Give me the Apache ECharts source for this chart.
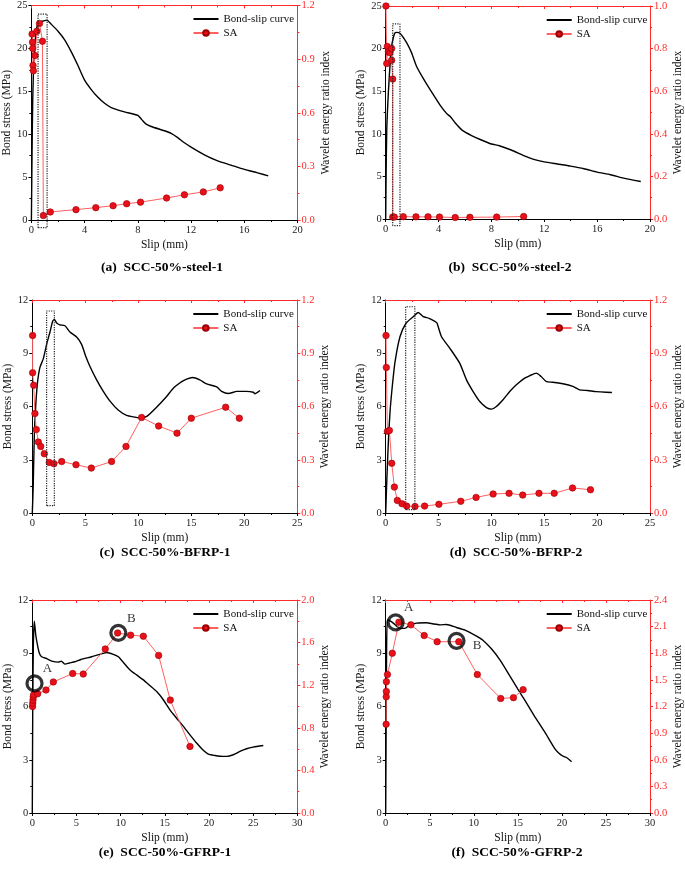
<!DOCTYPE html>
<html>
<head>
<meta charset="utf-8">
<script src="https://cdn.jsdelivr.net/npm/echarts@6/dist/echarts.min.js"></script>
<style>
html, body { margin: 0; padding: 0; background: #fff; }
#chart { width: 685px; height: 870px; }
</style>
</head>
<body>
<div id="chart"></div>
<script>
// bond-slip curves [slip mm, stress MPa]
const curveA = [[0,0],[0.05,8],[0.1,14],[0.15,17],[0.25,20],[0.35,22],[0.45,22.7],[0.53,22.9],[0.7,23.1],[0.9,23.2],[1.16,23.3],[1.5,22.8],[2,22.0],[2.5,21.0],[3,19.6],[3.5,18.0],[4,16.3],[4.5,15.2],[5,14.3],[5.5,13.6],[6,13.1],[7,12.6],[8,12.2],[8.3,11.7],[8.6,11.2],[9,10.9],[10,10.4],[10.5,10.1],[11,9.6],[11.5,9.0],[12,8.5],[13,7.6],[14,6.9],[15,6.4],[16,5.9],[17,5.5],[17.8,5.15]];
const curveB = [[0,0],[0.03,5],[0.08,10.5],[0.2,14.8],[0.32,17.9],[0.45,20.3],[0.58,21.3],[0.7,21.85],[0.83,21.9],[1.08,21.8],[1.58,20.7],[1.96,19.5],[2.34,17.9],[2.84,16.5],[3.35,15.2],[4.1,13.4],[4.6,12.4],[4.9,12],[5.3,11.2],[5.8,10.4],[6.5,9.8],[7.2,9.3],[8,8.8],[8.6,8.6],[9.5,8.1],[10.5,7.4],[11.2,7.0],[12,6.7],[13,6.45],[14,6.2],[15,5.9],[16,5.5],[17,5.2],[18,4.8],[19.3,4.4]];
const curveC = [[0,0],[0.09,1.6],[0.19,4.4],[0.35,6.3],[0.5,7.4],[0.72,8.2],[1.04,8.7],[1.35,9.5],[1.67,10.2],[1.92,10.8],[2.08,10.9],[2.3,10.7],[2.6,10.6],[3.08,10.55],[3.55,10.2],[4.2,9.9],[4.65,9.5],[5.06,8.8],[5.44,8.25],[6.07,7.5],[6.7,6.85],[7.33,6.3],[8.1,5.8],[8.9,5.5],[9.7,5.4],[10.16,5.35],[10.8,5.44],[11.7,5.94],[12.67,6.56],[13.3,7.03],[14.1,7.4],[14.56,7.54],[15.1,7.63],[15.8,7.5],[16.45,7.27],[17.4,7.1],[17.86,6.85],[18.5,6.73],[19.3,6.85],[20.2,6.85],[20.85,6.8],[21.0,6.72],[21.48,6.9]];
const curveD = [[0,0],[0.09,1.6],[0.25,4],[0.41,5.7],[0.6,7.0],[0.88,8.5],[1.35,9.93],[1.92,10.69],[2.6,11.06],[3.08,11.3],[3.55,11.06],[4.1,10.97],[4.65,10.8],[4.85,10.7],[5.28,9.93],[6.07,9.28],[7.0,8.44],[7.64,7.5],[8.27,6.84],[8.9,6.28],[9.53,5.94],[10.0,5.85],[10.47,6.0],[11.1,6.38],[11.73,6.84],[12.36,7.22],[13.14,7.6],[13.6,7.73],[14.25,7.88],[14.7,7.69],[15.2,7.4],[15.8,7.37],[16.76,7.28],[17.7,7.13],[18.33,6.94],[19.1,6.9],[19.9,6.84],[20.85,6.8],[21.4,6.79]];
const curveE = [[0,0],[0.05,6],[0.12,9.5],[0.23,10.8],[0.4,10.0],[0.61,9.4],[0.8,9.0],[1.06,8.8],[1.62,8.7],[2.2,8.56],[2.94,8.5],[3.3,8.55],[3.7,8.39],[4.2,8.45],[4.83,8.52],[5.5,8.65],[6.72,8.8],[8.04,8.99],[8.4,9.04],[9.17,8.94],[9.74,8.8],[10.38,8.44],[11.06,8.06],[11.8,7.78],[12.57,7.5],[13.3,7.18],[14.08,6.84],[14.83,6.38],[15.58,5.81],[16.34,5.34],[17.1,4.88],[17.85,4.4],[18.6,3.94],[19.36,3.53],[19.92,3.32],[20.68,3.24],[21.25,3.2],[22.0,3.19],[22.75,3.28],[23.5,3.47],[24.26,3.62],[25.0,3.71],[26.15,3.8]];
const curveF = [[0,0],[0.05,5],[0.1,9],[0.18,10.87],[0.4,10.85],[0.86,10.7],[1.62,10.4],[2.18,10.4],[2.75,10.6],[3.5,10.7],[4.64,10.72],[5.4,10.65],[6.15,10.6],[6.9,10.62],[8.04,10.45],[9,10.3],[10,10.05],[11,9.75],[12,9.25],[13,8.6],[14,7.8],[15,6.98],[15.77,6.37],[16.9,5.45],[18.03,4.58],[19.17,3.64],[19.6,3.4],[20.1,3.21],[20.6,3.1],[21.1,2.89]];

// SA: wavelet energy ratio index [slip mm, index]
const saA = [[0.05,1.04],[0.08,0.995],[0.1,0.96],[0.12,0.865],[0.15,0.835],[0.28,0.92],[0.41,1.056],[0.61,1.1],[0.83,1.0],[0.9,0.025],[1.42,0.045],[3.35,0.058],[4.84,0.069],[6.14,0.08],[7.16,0.091],[8.2,0.1],[10.16,0.123],[11.5,0.141],[12.92,0.157],[14.19,0.18]];
const saB = [[0.02,1.0],[0.08,0.73],[0.12,0.81],[0.2,0.785],[0.32,0.78],[0.45,0.8],[0.45,0.745],[0.53,0.657],[0.53,0.009],[0.65,0.009],[1.33,0.011],[2.29,0.01],[3.2,0.01],[4.07,0.009],[5.26,0.007],[6.37,0.008],[8.4,0.009],[10.44,0.012]];
const saC = [[0.03,1.0],[0.03,0.79],[0.13,0.72],[0.25,0.56],[0.38,0.47],[0.57,0.40],[0.79,0.375],[1.13,0.334],[1.6,0.285],[2.04,0.278],[2.77,0.29],[4.12,0.272],[5.57,0.253],[7.48,0.29],[8.84,0.375],[10.31,0.538],[11.92,0.49],[13.65,0.45],[15.0,0.534],[18.24,0.596],[19.53,0.534]];
const saD = [[0.03,1.0],[0.06,0.82],[0.16,0.46],[0.35,0.465],[0.57,0.28],[0.82,0.146],[1.1,0.071],[1.54,0.052],[1.98,0.039],[2.77,0.037],[3.68,0.039],[5.03,0.049],[7.1,0.066],[8.55,0.088],[10.16,0.107],[11.67,0.111],[12.96,0.101],[14.5,0.111],[15.94,0.111],[17.67,0.141],[19.37,0.131]];
const saE = [[0.03,1.0],[0.05,1.03],[0.08,1.06],[0.11,1.09],[0.15,1.11],[0.61,1.12],[1.55,1.155],[2.38,1.23],[4.57,1.31],[5.77,1.305],[8.26,1.54],[9.66,1.69],[11.13,1.67],[12.57,1.66],[14.3,1.48],[15.62,1.06],[17.85,0.625]];
const saF = [[0.05,1.0],[0.06,1.31],[0.07,1.37],[0.08,1.48],[0.2,1.56],[0.75,1.8],[1.5,2.15],[2.86,2.12],[4.37,2.0],[5.84,1.93],[8.3,1.93],[10.4,1.56],[13.05,1.29],[14.5,1.3],[15.6,1.39]];

// dotted boxes [x0, x1, y0, y1] in slip / stress
const boxA = [0.5, 1.18, -0.9, 24.0];
const boxB = [0.53, 1.08, -0.78, 22.9];
const boxC = [1.35, 2.08, 0.41, 11.38];
const boxD = [1.89, 2.76, 0.19, 11.62];

// circled points A / B [slip, stress]
const pointsE = [['A', 0.25, 7.3], ['B', 9.74, 10.15]];
const pointsF = [['A', 1.13, 10.74], ['B', 8.04, 9.7]];

const titles = ['(a)  SCC-50%-steel-1', '(b)  SCC-50%-steel-2', '(c)  SCC-50%-BFRP-1', '(d)  SCC-50%-BFRP-2', '(e)  SCC-50%-GFRP-1', '(f)  SCC-50%-GFRP-2'];

const panels = [
    { curve: curveA, sa: saA, box: boxA, xMax: 20, xStep: 4, yMax: 25, yStep: 5, rMax: 1.2, rStep: 0.3, left: 29.5, top: 5, w: 268, h: 215, tx: 162, ty: 268 },
    { curve: curveB, sa: saB, box: boxB, xMax: 20, xStep: 4, yMax: 25, yStep: 5, rMax: 1.0, rStep: 0.2, left: 385.7, top: 6, w: 265, h: 213, tx: 510, ty: 268 },
    { curve: curveC, sa: saC, box: boxC, xMax: 25, xStep: 5, yMax: 12, yStep: 3, rMax: 1.2, rStep: 0.3, left: 32.3, top: 300, w: 265, h: 213, tx: 165, ty: 553 },
    { curve: curveD, sa: saD, box: boxD, xMax: 25, xStep: 5, yMax: 12, yStep: 3, rMax: 1.2, rStep: 0.3, left: 385.7, top: 300, w: 265, h: 213, tx: 516, ty: 553 },
    { curve: curveE, sa: saE, points: pointsE, xMax: 30, xStep: 5, yMax: 12, yStep: 3, rMax: 2.0, rStep: 0.4, left: 32.3, top: 600, w: 265, h: 213, tx: 165, ty: 853 },
    { curve: curveF, sa: saF, points: pointsF, xMax: 30, xStep: 5, yMax: 12, yStep: 3, rMax: 2.4, rStep: 0.3, left: 385.7, top: 600, w: 265, h: 213, tx: 517, ty: 853 }
];

const FONT = '"Liberation Serif", "DejaVu Serif", serif';
const RED = '#ff2a2a';

let grids = [], xAxes = [], yAxes = [], series = [], legends = [], graphics = [];

panels.forEach((p, i) => {
    grids.push({ left: p.left, top: p.top, width: p.w, height: p.h });

    xAxes.push({
        gridIndex: i, type: 'value', min: 0, max: p.xMax, interval: p.xStep,
        name: 'Slip (mm)', nameLocation: 'middle', nameGap: 19,
        nameTextStyle: { fontFamily: FONT, fontSize: 11.5, color: '#111' },
        axisLine: { onZero: false, lineStyle: { color: '#000', width: 1 } },
        axisTick: { length: 3, lineStyle: { color: '#000' } },
        minorTick: { show: true, splitNumber: 2, length: 2, lineStyle: { color: '#000' } },
        axisLabel: { margin: 5, fontFamily: FONT, fontSize: 10.5, color: '#222' },
        splitLine: { show: false }
    });
    // red top border
    xAxes.push({
        gridIndex: i, type: 'value', position: 'top', min: 0, max: p.xMax, interval: p.xStep,
        axisLine: { onZero: false, lineStyle: { color: RED, width: 1 } },
        axisTick: { inside: true, length: 3, lineStyle: { color: RED } },
        minorTick: { show: true, splitNumber: 2, length: 2, lineStyle: { color: RED } },
        axisLabel: { show: false }, splitLine: { show: false }
    });

    yAxes.push({
        gridIndex: i, type: 'value', position: 'left', min: 0, max: p.yMax, interval: p.yStep,
        name: 'Bond stress (MPa)', nameLocation: 'middle', nameGap: 17, nameRotate: 90,
        nameTextStyle: { fontFamily: FONT, fontSize: 11.5, color: '#111' },
        axisLine: { show: true, onZero: false, lineStyle: { color: '#000', width: 1 } },
        axisTick: { show: true, length: 3, lineStyle: { color: '#000' } },
        minorTick: { show: true, splitNumber: 2, length: 2, lineStyle: { color: '#000' } },
        axisLabel: { margin: 4, fontFamily: FONT, fontSize: 10.5, color: '#222' },
        splitLine: { show: false }
    });
    yAxes.push({
        gridIndex: i, type: 'value', position: 'right', min: 0, max: p.rMax, interval: p.rStep,
        name: 'Wavelet energy ratio index', nameLocation: 'middle', nameGap: 22, nameRotate: 90,
        nameTextStyle: { fontFamily: FONT, fontSize: 11.5, color: '#111' },
        axisLine: { show: true, onZero: false, lineStyle: { color: RED, width: 1 } },
        axisTick: { show: true, length: 3, lineStyle: { color: RED } },
        minorTick: { show: true, splitNumber: 2, length: 2, lineStyle: { color: RED } },
        axisLabel: { margin: 4, fontFamily: FONT, fontSize: 10.5, color: RED, formatter: v => v.toFixed(1) },
        splitLine: { show: false }
    });

    series.push({
        type: 'line', name: 'Bond-slip curve', xAxisIndex: 2 * i, yAxisIndex: 2 * i,
        data: p.curve, symbol: 'none', smooth: 0.2, z: 3,
        lineStyle: { color: '#000', width: 1.4 }, itemStyle: { color: '#000' }
    });
    series.push({
        type: 'line', name: 'SA', xAxisIndex: 2 * i, yAxisIndex: 2 * i + 1,
        data: p.sa, symbol: 'circle', symbolSize: 6.5, z: 4,
        lineStyle: { color: '#ff6060', width: 1 },
        itemStyle: { color: '#e8101a', borderColor: '#9a0000', borderWidth: 0.6 }
    });
    if (p.box) {
        const b = p.box;
        series.push({
            type: 'line', name: 'box', xAxisIndex: 2 * i, yAxisIndex: 2 * i,
            data: [[b[0], b[2]], [b[0], b[3]], [b[1], b[3]], [b[1], b[2]], [b[0], b[2]]],
            symbol: 'none', clip: false, silent: true, z: 5,
            lineStyle: { type: 'dotted', color: '#222', width: 1.2 }
        });
    }
    if (p.points) {
        series.push({
            type: 'scatter', name: 'mark', xAxisIndex: 2 * i, yAxisIndex: 2 * i,
            data: p.points.map(q => ({ name: q[0], value: [q[1], q[2]] })),
            symbol: 'circle', symbolSize: 15, z: 6, clip: false, silent: true,
            itemStyle: { color: 'rgba(0,0,0,0)', borderColor: '#000', borderWidth: 3.2 },
            label: { show: true, formatter: '{b}', position: 'top', offset: [13, 6], fontFamily: FONT, fontSize: 13, color: '#000' }
        });
    }

    legends.push({
        left: p.left + p.w - 105, top: p.top + 7, orient: 'vertical', padding: 0,
        itemWidth: 25, itemHeight: 7, itemGap: 0,
        textStyle: { fontFamily: FONT, fontSize: 11, color: '#111', lineHeight: 14 },
        data: [
            { name: 'Bond-slip curve', itemStyle: { color: 'rgba(0,0,0,0)', borderWidth: 0 } },
            'SA'
        ]
    });

    graphics.push({
        type: 'text', x: p.tx, y: p.ty,
        style: { text: titles[i], font: 'bold 13.5px ' + FONT, fill: '#000', align: 'center', verticalAlign: 'middle', textAlign: 'center', textVerticalAlign: 'middle' }
    });
});

// label B of panel (f) sits to the right of its circle
series[series.length - 1].data[1].label = { position: 'right', offset: [2, 5] };

let myChart = echarts.init(document.getElementById('chart'));
myChart.setOption({
    animation: false,
    backgroundColor: '#fff',
    grid: grids,
    xAxis: xAxes,
    yAxis: yAxes,
    legend: legends,
    series: series,
    graphic: graphics
});
</script>
</body>
</html>
